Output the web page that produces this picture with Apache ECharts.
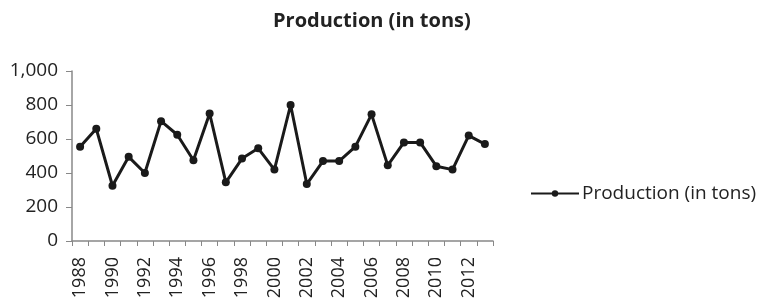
<!DOCTYPE html>
<html>
<head>
<meta charset="utf-8">
<script src="https://cdn.jsdelivr.net/npm/echarts@6/dist/echarts.min.js"></script>
<style>
  html, body { margin: 0; padding: 0; background: #fff; }
  #chart { width: 761px; height: 307px; }
</style>
</head>
<body>
<div id="chart"></div>
<script>
var years = ['1988', '1989', '1990', '1991', '1992', '1993', '1994', '1995', '1996', '1997', '1998', '1999', '2000',
             '2001', '2002', '2003', '2004', '2005', '2006', '2007', '2008', '2009', '2010', '2011', '2012', '2013'];
var production = [555, 660, 325, 495, 400, 705, 625, 475, 750, 345, 485, 545, 420,
                  800, 335, 470, 470, 555, 745, 445, 580, 580, 440, 420, 620, 570];
var yTicks = { min: 0, max: 1000, interval: 200 };

var fontName = '"Open Sans", "Noto Sans", sans-serif';
var myChart = echarts.init(document.getElementById('chart'));

var option = {
    animation: false,
    title: {
        text: 'Production (in tons)',
        left: 268,
        top: 6,
        textStyle: { fontFamily: fontName, fontSize: 20, fontWeight: 'bold', color: '#222' }
    },
    legend: {
        data: ['Production (in tons)'],
        left: 525,
        top: 179,
        itemWidth: 48,
        itemHeight: 8,
        itemGap: 4,
        textStyle: { fontFamily: fontName, fontSize: 19, color: '#222', padding: [0, 0, 0, -2] }
    },
    grid: { left: 72, right: 268, top: 71, bottom: 66 },
    xAxis: {
        type: 'category',
        data: years,
        boundaryGap: true,
        axisLine: { lineStyle: { color: '#888', width: 1.5 } },
        axisTick: { show: true, interval: 0, length: 5, lineStyle: { color: '#888' } },
        axisLabel: {
            interval: 1,
            rotate: 90,
            margin: 16,
            fontFamily: fontName,
            fontSize: 18,
            color: '#222'
        }
    },
    yAxis: {
        type: 'value',
        min: yTicks.min,
        max: yTicks.max,
        interval: yTicks.interval,
        splitLine: { show: false },
        axisLine: { show: true, lineStyle: { color: '#888', width: 1.5 } },
        axisTick: { show: true, length: 6, lineStyle: { color: '#888' } },
        axisLabel: {
            margin: 14,
            fontFamily: fontName,
            fontSize: 19,
            color: '#222',
            formatter: function (v) { return v.toLocaleString('en-US'); }
        }
    },
    series: [{
        name: 'Production (in tons)',
        type: 'line',
        data: production,
        symbol: 'circle',
        symbolSize: 8,
        itemStyle: { color: '#1a1a1a' },
        lineStyle: { color: '#1a1a1a', width: 3 }
    }]
};

myChart.setOption(option);
</script>
</body>
</html>
